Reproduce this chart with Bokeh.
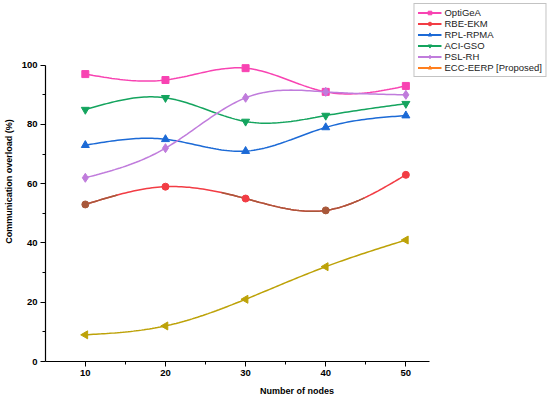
import numpy as np
from bokeh.plotting import figure
from bokeh.models import Legend, LegendItem, ColumnDataSource, FixedTicker
from bokeh.embed import file_html
from bokeh.resources import INLINE

nodes = [10, 20, 30, 40, 50]
optigea = [97, 95, 99, 91, 93]
rbe_ekm = [53, 59, 55, 51, 63]
rpl_rpma = [73, 75, 71, 79, 83]
aci_gso = [85, 89, 81, 83, 87]
psl_rh = [62, 72, 89, 91, 90]
ecc_eerp = [9, 12, 21, 32, 41]
names = ["OptiGeA", "RBE-EKM", "RPL-RPMA", "ACI-GSO", "PSL-RH", "ECC-EERP [Proposed]"]
y_ticks = [0, 20, 40, 60, 80, 100]

series = [optigea, rbe_ekm, rpl_rpma, aci_gso, psl_rh, ecc_eerp]
colors = ["#F843B2", "#F23C44", "#1C6AD6", "#14A45E", "#C07CDC", "#BDA208"]
legend_colors = ["#F843B2", "#F23C44", "#1C6AD6", "#14A45E", "#C07CDC", "#FF7F1E"]
markers = ["square", "circle", "triangle", "inverted_triangle", "diamond", "triangle"]
angles = [0, 0, 0, 0, 0, np.pi / 2]
sizes = [7, 7, 8, 8, 9, 8]
brown = "#A8583A"


def natural_spline(x, y, n=30):
    x = np.asarray(x, float)
    y = np.asarray(y, float)
    k = len(x)
    h = np.diff(x)
    A = np.zeros((k, k))
    b = np.zeros(k)
    A[0, 0] = 1
    A[-1, -1] = 1
    for i in range(1, k - 1):
        A[i, i - 1] = h[i - 1]
        A[i, i] = 2 * (h[i - 1] + h[i])
        A[i, i + 1] = h[i]
        b[i] = 6 * ((y[i + 1] - y[i]) / h[i] - (y[i] - y[i - 1]) / h[i - 1])
    M = np.linalg.solve(A, b)
    xs, ys = [], []
    for i in range(k - 1):
        t = np.linspace(x[i], x[i + 1], n, endpoint=(i == k - 2))
        a = x[i + 1] - t
        c = t - x[i]
        s = (M[i] * a ** 3 + M[i + 1] * c ** 3) / (6 * h[i]) \
            + (y[i] / h[i] - M[i] * h[i] / 6) * a \
            + (y[i + 1] / h[i] - M[i + 1] * h[i] / 6) * c
        xs.extend(t)
        ys.extend(s)
    return np.array(xs), np.array(ys)


x0, x1 = 5.03, 67.8
p = figure(width=548, height=398, output_backend="svg", toolbar_location=None,
           x_range=(x0, x1), y_range=(0, 121.5), min_border_left=43,
           min_border_right=0, min_border_top=1, min_border_bottom=35)
p.outline_line_color = None
p.grid.grid_line_color = None
p.background_fill_color = "white"

font = "Liberation Sans"
for ax in (p.xaxis[0], p.yaxis[0]):
    ax.axis_line_color = "black"
    ax.axis_line_width = 1.2
    ax.major_tick_line_color = "black"
    ax.minor_tick_line_color = "black"
    ax.major_tick_out = 5
    ax.major_tick_in = 0
    ax.minor_tick_out = 3
    ax.minor_tick_in = 0
    ax.major_label_text_font = font
    ax.major_label_text_font_style = "bold"
    ax.major_label_text_font_size = "9.5px"
    ax.major_label_text_color = "black"
    ax.axis_label_text_font = font
    ax.axis_label_text_font_style = "bold"
    ax.axis_label_text_font_size = "9px"
    ax.axis_label_text_color = "black"
    ax.major_label_standoff = 3
p.xaxis.axis_label_standoff = 7
p.yaxis.axis_label_standoff = 5

p.xaxis.ticker = FixedTicker(ticks=nodes, minor_ticks=[15, 25, 35, 45])
p.yaxis.ticker = FixedTicker(ticks=y_ticks, minor_ticks=[10, 30, 50, 70, 90])
p.xaxis.bounds = (x0, 53)
p.yaxis.bounds = (0, 100)
p.xaxis.axis_label = "Number of nodes"
p.yaxis.axis_label = "Communication overload (%)"

items = []
for idx, (vals, name, c, lc, m, a, s) in enumerate(
        zip(series, names, colors, legend_colors, markers, angles, sizes)):
    xs, ys = natural_spline(nodes, vals)
    p.line(xs, ys, line_color=c, line_width=1.5)
    mcols = [c] * len(nodes)
    if name == "RBE-EKM":
        for lo, hi in [(10, 14), (27, 45)]:
            mask = (xs >= lo) & (xs <= hi)
            p.line(xs[mask], ys[mask], line_color=brown, line_width=1.5)
        mcols[0] = brown
        mcols[3] = brown
    p.scatter(nodes, vals, marker=m, size=s, angle=a, fill_color=mcols, line_color=mcols)
    src = ColumnDataSource(data=dict(x=[np.nan], y=[np.nan]))
    lr = p.line("x", "y", source=src, line_color=lc, line_width=2)
    sr = p.scatter("x", "y", source=src, marker=m, size=s, angle=a, fill_color=lc, line_color=lc)
    items.append(LegendItem(label=name, renderers=[lr, sr]))

legend = Legend(items=items, location="top_right")
legend.label_text_font = font
legend.label_text_font_size = "9.5px"
legend.label_text_color = "#222222"
legend.glyph_width = 24
legend.glyph_height = 9
legend.label_height = 9
legend.spacing = 0
legend.padding = 3
legend.margin = 2
legend.label_standoff = 3
legend.border_line_color = "#888888"
legend.border_line_width = 1
legend.background_fill_alpha = 1
p.add_layout(legend)

open("out.html", "w").write(file_html(p, INLINE))
